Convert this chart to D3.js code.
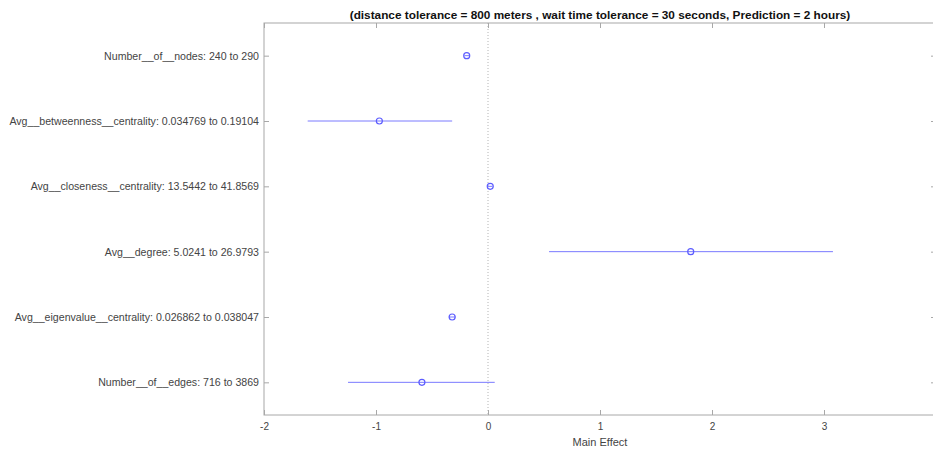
<!DOCTYPE html>
<html>
<head>
<meta charset="utf-8">
<script src="https://cdn.jsdelivr.net/npm/d3@7"></script>
<style>
  body { margin: 0; background: #fff; }
  text { font-family: "Liberation Sans", Arial, sans-serif; }
</style>
</head>
<body>
<div id="chart"></div>
<script>
const factors = [
  "Number__of__nodes: 240 to 290",
  "Avg__betweenness__centrality: 0.034769 to 0.19104",
  "Avg__closeness__centrality: 13.5442 to 41.8569",
  "Avg__degree: 5.0241 to 26.9793",
  "Avg__eigenvalue__centrality: 0.026862 to 0.038047",
  "Number__of__edges: 716 to 3869"
];
const effects = [-0.19, -0.97, 0.02, 1.81, -0.32, -0.59];
const lowerCI = [-0.21, -1.61, 0.0, 0.545, -0.35, -1.25];
const upperCI = [-0.17, -0.32, 0.04, 3.08, -0.29, 0.06];
const xTicks = [-2, -1, 0, 1, 2, 3, 4];

const width = 933, height = 451;
const margin = { top: 23, right: -3, bottom: 36, left: 264 };

const svg = d3.select("#chart").append("svg")
  .attr("width", width)
  .attr("height", height);

const x = d3.scaleLinear()
  .domain([-2, 4])
  .range([margin.left, width - margin.right]);

const y = d3.scalePoint()
  .domain(factors)
  .range([margin.top, height - margin.bottom])
  .padding(0.5);

const axisColor = "#a8a8a8";
const plotTop = margin.top, plotBottom = height - margin.bottom;
const plotLeft = margin.left, plotRight = width - margin.right;

// zero reference line
svg.append("line")
  .attr("x1", x(0)).attr("x2", x(0))
  .attr("y1", plotTop).attr("y2", plotBottom)
  .attr("stroke", "#b4b4b4")
  .attr("stroke-dasharray", "1,2");

// box
svg.append("rect")
  .attr("x", plotLeft).attr("y", plotTop)
  .attr("width", plotRight - plotLeft).attr("height", plotBottom - plotTop)
  .attr("fill", "none")
  .attr("stroke", axisColor);

// bottom axis (matlab style hyphen minus)
const xAxis = svg.append("g")
  .attr("transform", `translate(0,${plotBottom})`)
  .call(d3.axisBottom(x).tickValues(xTicks).tickSize(-5).tickPadding(8).tickFormat(d => String(d)));
xAxis.select(".domain").remove();
xAxis.selectAll("line").attr("stroke", axisColor);
xAxis.selectAll("text").attr("fill", "#444").style("font-size", "10px");

// top ticks
const xTop = svg.append("g")
  .attr("transform", `translate(0,${plotTop})`)
  .call(d3.axisTop(x).tickValues(xTicks).tickSize(-5).tickFormat(""));
xTop.select(".domain").remove();
xTop.selectAll("line").attr("stroke", axisColor);

// left axis
const yAxis = svg.append("g")
  .attr("transform", `translate(${plotLeft},0)`)
  .call(d3.axisLeft(y).tickSize(-5).tickPadding(5));
yAxis.select(".domain").remove();
yAxis.selectAll("line").attr("stroke", axisColor);
yAxis.selectAll("text").attr("fill", "#444").style("font-size", "10.6px");

// right ticks
const yRight = svg.append("g")
  .attr("transform", `translate(${plotRight},0)`)
  .call(d3.axisRight(y).tickSize(-5).tickFormat(""));
yRight.select(".domain").remove();
yRight.selectAll("line").attr("stroke", axisColor);

// error bars
svg.selectAll(".ci")
  .data(factors)
  .enter().append("line")
  .attr("class", "ci")
  .attr("x1", (d, i) => x(lowerCI[i]))
  .attr("x2", (d, i) => x(upperCI[i]))
  .attr("y1", d => y(d))
  .attr("y2", d => y(d))
  .attr("stroke", "#7a7aff")
  .attr("stroke-width", 1);

// points
svg.selectAll(".pt")
  .data(factors)
  .enter().append("circle")
  .attr("class", "pt")
  .attr("cx", (d, i) => x(effects[i]))
  .attr("cy", d => y(d))
  .attr("r", 3)
  .attr("fill", "none")
  .attr("stroke", "#5c5cff")
  .attr("stroke-width", 1.2);

// title
svg.append("text")
  .attr("x", (plotLeft + plotRight) / 2)
  .attr("y", 19)
  .attr("text-anchor", "middle")
  .style("font-size", "11.8px")
  .style("font-weight", "bold")
  .attr("fill", "#111")
  .text("(distance tolerance = 800 meters , wait time tolerance = 30 seconds, Prediction = 2 hours)");

// x label
svg.append("text")
  .attr("x", (plotLeft + plotRight) / 2)
  .attr("y", 446)
  .attr("text-anchor", "middle")
  .style("font-size", "11px")
  .attr("fill", "#444")
  .text("Main Effect");
</script>
</body>
</html>
